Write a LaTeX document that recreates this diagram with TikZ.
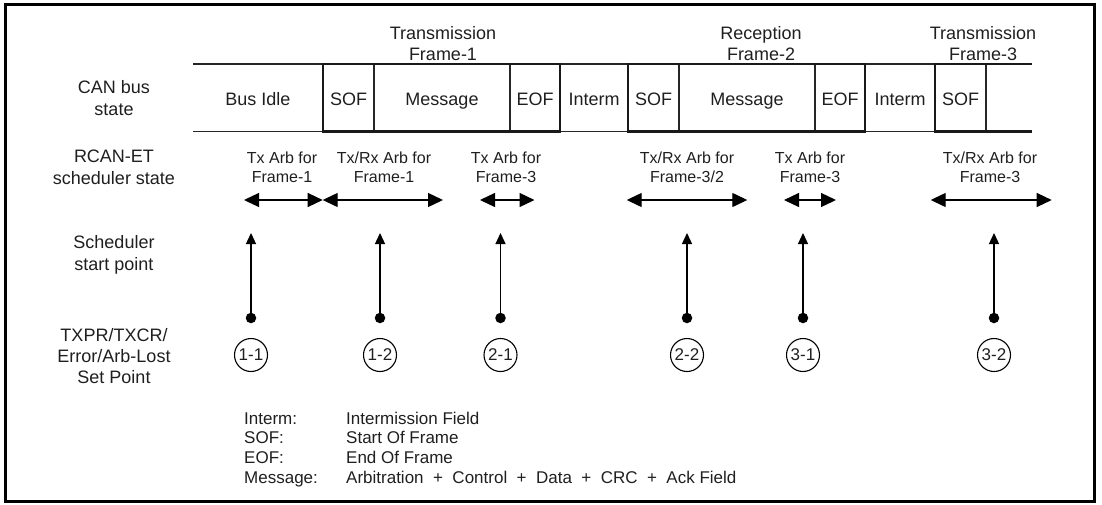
\documentclass[tikz,border=0pt]{standalone}
\usepackage{fontspec}
\setmainfont{Liberation Sans}
\usetikzlibrary{arrows.meta}
\begin{document}
\begin{tikzpicture}[x=1pt,y=-1pt,
  main/.style={font=\fontsize{18}{21}\selectfont, anchor=base, inner sep=0pt, text=black!88},
  small/.style={font=\fontsize{16}{19}\selectfont, anchor=base, inner sep=0pt, text=black!88},
  leg/.style={font=\fontsize{17}{20}\selectfont, anchor=base west, inner sep=0pt, text=black!88},
  thinln/.style={line width=1.3pt, black!85},
  framebox/.style={line width=2.8pt, black!90},
  span/.style={line width=1.3pt, {Triangle[length=15pt,width=14pt]}-{Triangle[length=15pt,width=14pt]}},
  uparr/.style={line width=1.3pt, -{Triangle[length=11pt,width=10pt]}},
  dotn/.style={circle, fill=black, inner sep=0pt, minimum size=10.5pt},
  setpt/.style={circle, draw, line width=1.1pt, minimum size=33pt, inner sep=0pt, font=\fontsize{17}{19}\selectfont, text=black!88}
]
\useasboundingbox (0,0) rectangle (1102,504);
\draw[line width=3pt] (5,4) rectangle (1094,501);

% row labels
\node[main] (rl1a) at (114,93) {CAN bus};
\node[main] (rl1b) at (114,115) {state};
\node[main] (rl2a) at (114,162) {RCAN-ET};
\node[main] (rl2b) at (114,184) {scheduler state};
\node[main] (rl3a) at (114,248) {Scheduler};
\node[main] (rl3b) at (114,270) {start point};
\node[main] (rl4a) at (114,341) {TXPR/TXCR/};
\node[main] (rl4b) at (114,362) {Error/Arb-Lost};
\node[main] (rl4c) at (114,383) {Set Point};

% frame headers
\node[main] (h1a) at (443,39) {Transmission};
\node[main] (h1b) at (443,60) {Frame-1};
\node[main] (h2a) at (761,39) {Reception};
\node[main] (h2b) at (761,60) {Frame-2};
\node[main] (h3a) at (983,39) {Transmission};
\node[main] (h3b) at (983,60) {Frame-3};

% bus state line
\draw[thinln] (193,64) -- (1032,64);
\draw[thinln] (193,131.5) -- (1032,131.5);
\draw[thinln] (374,64) -- (374,131.5);
\draw[thinln] (510,64) -- (510,131.5);
\draw[thinln] (679,64) -- (679,131.5);
\draw[thinln] (815,64) -- (815,131.5);
\draw[thinln] (986,64) -- (986,131.5);
\draw[framebox] (323,64) rectangle (560,131.5);
\draw[framebox] (628,64) rectangle (865,131.5);
\draw[framebox] (1032,64) -- (935,64) -- (935,131.5) -- (1032,131.5);

\node[main] (b1) at (258,105) {Bus Idle};
\node[main] (b2) at (348.5,105) {SOF};
\node[main] (b3) at (442,105) {Message};
\node[main] (b4) at (535,105) {EOF};
\node[main] (b5) at (594,105) {Interm};
\node[main] (b6) at (653.5,105) {SOF};
\node[main] (b7) at (747,105) {Message};
\node[main] (b8) at (840,105) {EOF};
\node[main] (b9) at (900,105) {Interm};
\node[main] (b10) at (960.5,105) {SOF};

% scheduler state labels
\node[small] (s1a) at (282,163) {Tx Arb for};
\node[small] (s1b) at (282,182) {Frame-1};
\node[small] (s2a) at (384,163) {Tx/Rx Arb for};
\node[small] (s2b) at (384,182) {Frame-1};
\node[small] (s3a) at (506,163) {Tx Arb for};
\node[small] (s3b) at (506,182) {Frame-3};
\node[small] (s4a) at (687,163) {Tx/Rx Arb for};
\node[small] (s4b) at (687,182) {Frame-3/2};
\node[small] (s5a) at (810,163) {Tx Arb for};
\node[small] (s5b) at (810,182) {Frame-3};
\node[small] (s6a) at (990,163) {Tx/Rx Arb for};
\node[small] (s6b) at (990,182) {Frame-3};

% span arrows
\coordinate (a1l) at (244,200);   \coordinate (a1r) at (322.7,200);
\coordinate (a2l) at (322.7,200); \coordinate (a2r) at (443,200);
\coordinate (a3l) at (480,200);   \coordinate (a3r) at (534.5,200);
\coordinate (a4l) at (626.7,200); \coordinate (a4r) at (747.3,200);
\coordinate (a5l) at (784,200);   \coordinate (a5r) at (836,200);
\coordinate (a6l) at (930.7,200); \coordinate (a6r) at (1051.7,200);
\draw[span] (a1l) -- (a1r);
\draw[span] (a2l) -- (a2r);
\draw[span] (a3l) -- (a3r);
\draw[span] (a4l) -- (a4r);
\draw[span] (a5l) -- (a5r);
\draw[span] (a6l) -- (a6r);

% start points and set points
\foreach \n/\x/\t in {1/251/1-1, 2/380/1-2, 3/500.5/2-1, 4/687/2-2, 5/803/3-1, 6/994/3-2}{
  \coordinate (t\n) at (\x,233);
  \node[dotn] (d\n) at (\x,318) {};
  \node[setpt] (c\n) at (\x,355) {\t};
  \draw[uparr] (d\n.center) -- (t\n);
}

% legend
\node[leg] (l1a) at (244,424) {Interm:};
\node[leg] (l1b) at (346,424) {Intermission Field};
\node[leg] (l2a) at (244,443.5) {SOF:};
\node[leg] (l2b) at (346,443.5) {Start Of Frame};
\node[leg] (l3a) at (244,463) {EOF:};
\node[leg] (l3b) at (346,463) {End Of Frame};
\node[leg] (l4a) at (244,483) {Message:};
\node[leg] (l4b) at (346,483) {Arbitration\ \ +\ \ Control\ \ +\ \ Data\ \ +\ \ CRC\ \ +\ \ Ack Field};
\end{tikzpicture}
\end{document}
